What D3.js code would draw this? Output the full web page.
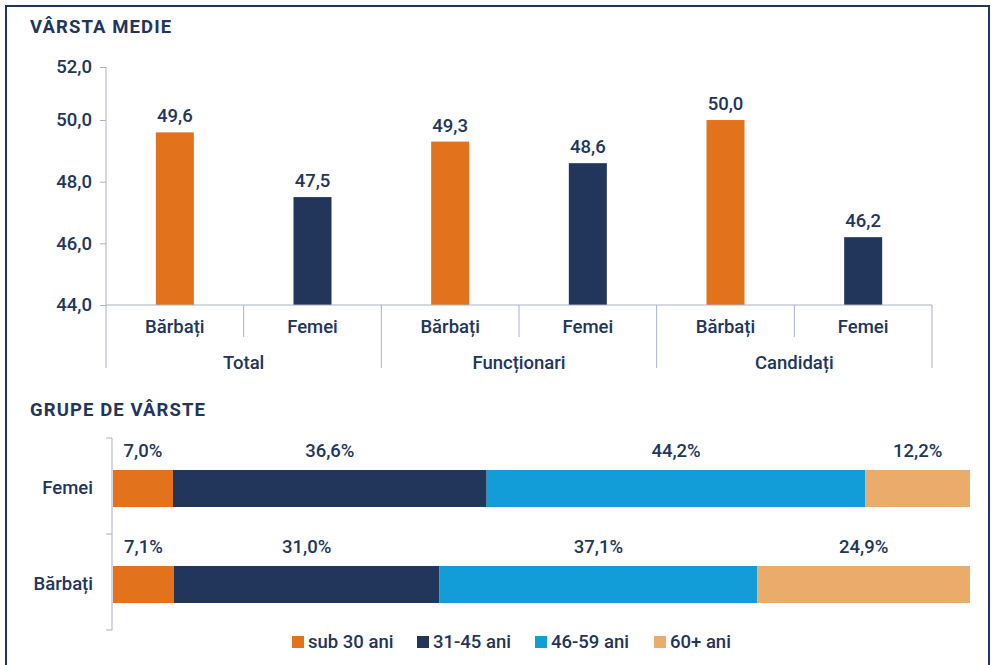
<!DOCTYPE html>
<html>
<head>
<meta charset="utf-8">
<script src="https://cdn.jsdelivr.net/npm/d3@7"></script>
<style>
  html, body { margin: 0; padding: 0; background: #fff; }
  svg { display: block; font-family: Roboto, "Noto Sans", sans-serif; }
</style>
</head>
<body>
<svg id="chart" width="991" height="665"></svg>
<script>
// ---- Data ----
const groups = ["Total", "Funcționari", "Candidați"];
const genders = ["Bărbați", "Femei"];
const avgAge = [49.6, 47.5, 49.3, 48.6, 50.0, 46.2]; // Total B, Total F, Func B, Func F, Cand B, Cand F
const ageTicks = [44, 46, 48, 50, 52];

const ageGroups = ["sub 30 ani", "31-45 ani", "46-59 ani", "60+ ani"];
const rowLabels = ["Femei", "Bărbați"];
const femeiShares = [7.0, 36.6, 44.2, 12.2];
const barbatiShares = [7.1, 31.0, 37.1, 24.9];

// ---- Style ----
const NAVY = "#22355b";
const ORANGE = "#e2731c";
const BLUE = "#129dd8";
const LORANGE = "#ebab6a";
const AXIS = "#a9b1c5";
const FS = 18.5;
const genderColor = [ORANGE, NAVY];
const groupColors = [ORANGE, NAVY, BLUE, LORANGE];

const fmt1 = v => d3.format(".1f")(v).replace(".", ",");

const svg = d3.select("#chart");

// Frame
svg.append("rect").attr("x", 6).attr("y", 6).attr("width", 983).attr("height", 670)
  .attr("fill", "none").attr("stroke", NAVY).attr("stroke-width", 2);

// Titles
svg.append("text").attr("x", 30).attr("y", 33).text("VÂRSTA MEDIE")
  .attr("fill", NAVY).attr("font-size", 18.5).attr("font-weight", 700).attr("letter-spacing", 1.1);
svg.append("text").attr("x", 30).attr("y", 416).text("GRUPE DE VÂRSTE")
  .attr("fill", NAVY).attr("font-size", 18.5).attr("font-weight", 700).attr("letter-spacing", 1.1);

// ---- Top chart ----
const keys = [];
groups.forEach(g => genders.forEach(s => keys.push(g + "|" + s)));
const topData = keys.map((k, i) => ({ key: k, group: k.split("|")[0], gender: k.split("|")[1], value: avgAge[i], gi: i % 2 }));

const x = d3.scaleBand().domain(keys).range([106, 932]).paddingInner(0.724).paddingOuter(0.362);
const y = d3.scaleLinear().domain([44, 51.72]).range([305, 67]).clamp(true);

const yAxis = svg.append("g").attr("transform", "translate(106,0)")
  .call(d3.axisLeft(y).tickValues(ageTicks).tickFormat(fmt1).tickSize(6).tickPadding(8));
yAxis.select(".domain").attr("stroke", AXIS).attr("d", `M-0,${y(52)}V${y(44)}`);
yAxis.selectAll(".tick line").attr("stroke", AXIS);
yAxis.selectAll(".tick text").attr("fill", NAVY).attr("font-size", FS).attr("font-weight", 500)
  .attr("font-family", "Roboto, sans-serif");

svg.append("g").selectAll("rect").data(topData).join("rect")
  .attr("x", d => x(d.key)).attr("width", x.bandwidth())
  .attr("y", d => y(d.value)).attr("height", d => y(44) - y(d.value))
  .attr("fill", d => genderColor[d.gi]);

svg.append("g").selectAll("text").data(topData).join("text")
  .attr("x", d => x(d.key) + x.bandwidth() / 2).attr("y", d => y(d.value) - 10)
  .attr("text-anchor", "middle").attr("fill", NAVY).attr("font-size", FS).attr("font-weight", 500)
  .text(d => fmt1(d.value));

// Multi-level category axis
const step = x.step();
const x0 = x.range()[0];
const catAxis = svg.append("g");
catAxis.append("line").attr("x1", x0).attr("x2", x.range()[1]).attr("y1", y(44)).attr("y2", y(44)).attr("stroke", AXIS);
for (let i = 0; i <= keys.length; i++) {
  const long = i % 2 === 0;
  catAxis.append("line").attr("x1", x0 + i * step).attr("x2", x0 + i * step)
    .attr("y1", y(44)).attr("y2", long ? 368 : 337).attr("stroke", AXIS);
}
catAxis.selectAll("text.cat").data(topData).join("text").attr("class", "cat")
  .attr("x", d => x(d.key) + x.bandwidth() / 2).attr("y", 333)
  .attr("text-anchor", "middle").attr("fill", NAVY).attr("font-size", FS).attr("font-weight", 500)
  .text(d => d.gender);
catAxis.selectAll("text.grp").data(groups).join("text").attr("class", "grp")
  .attr("x", (d, i) => x0 + (2 * i + 1) * step).attr("y", 369)
  .attr("text-anchor", "middle").attr("fill", NAVY).attr("font-size", FS).attr("font-weight", 500)
  .text(d => d);

// ---- Bottom chart ----
const rows = [femeiShares, barbatiShares];
const xs = d3.scaleLinear().domain([0, 100]).range([113, 970]);
const yb = d3.scaleBand().domain(rowLabels).range([438, 630]);
const barH = 37;
const barOff = 32; // offset from band top

const bAxis = svg.append("g").attr("transform", "translate(112,0)");
bAxis.append("line").attr("x1", 0).attr("x2", 0).attr("y1", 438).attr("y2", 630).attr("stroke", AXIS);
[0, 1, 2].forEach(i => {
  const yy = 438 + i * yb.step();
  bAxis.append("line").attr("x1", -6).attr("x2", 0).attr("y1", yy).attr("y2", yy).attr("stroke", AXIS);
});
svg.append("g").selectAll("text").data(rowLabels).join("text")
  .attr("x", 93).attr("y", d => yb(d) + barOff + barH / 2 + 5)
  .attr("text-anchor", "end").attr("fill", NAVY).attr("font-size", FS).attr("font-weight", 500)
  .text(d => d);

rows.forEach((vals, r) => {
  let cum = 0;
  const segs = vals.map((v, i) => { const s = { start: cum, end: cum + v, v, i }; cum += v; return s; });
  const g = svg.append("g");
  const by = yb(rowLabels[r]) + barOff;
  g.selectAll("rect").data(segs).join("rect")
    .attr("x", d => xs(d.start)).attr("width", d => xs(Math.min(d.end, 100)) - xs(d.start))
    .attr("y", by).attr("height", barH).attr("fill", d => groupColors[d.i]);
  g.selectAll("text").data(segs).join("text")
    .attr("x", d => (xs(d.start) + xs(Math.min(d.end, 100))) / 2).attr("y", by - 13)
    .attr("text-anchor", "middle").attr("fill", NAVY).attr("font-size", FS).attr("font-weight", 500)
    .text(d => fmt1(d.v) + "%");
});

// Legend
const legendX = [292, 417, 535, 654];
const lg = svg.append("g");
ageGroups.forEach((name, i) => {
  lg.append("rect").attr("x", legendX[i]).attr("y", 636).attr("width", 12).attr("height", 12).attr("fill", groupColors[i]);
  lg.append("text").attr("x", legendX[i] + 16).attr("y", 648).attr("fill", NAVY)
    .attr("font-size", FS).attr("font-weight", 500).text(name);
});
</script>
</body>
</html>
